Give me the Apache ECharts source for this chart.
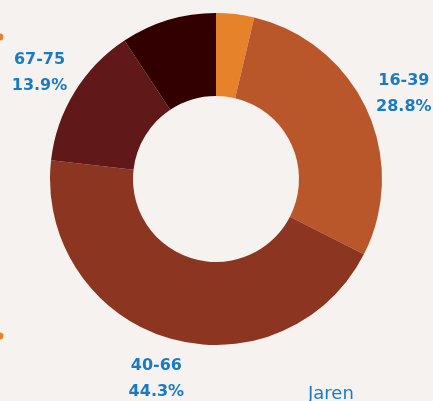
<!DOCTYPE html>
<html>
<head>
<meta charset="utf-8">
<script src="https://cdn.jsdelivr.net/npm/echarts@6/dist/echarts.min.js"></script>
<style>
  html, body { margin: 0; padding: 0; background: #f6f2ef; }
  #chart { width: 433px; height: 401px; }
</style>
</head>
<body>
<div id="chart"></div>
<script>
var categories = ["0-15", "16-39", "40-66", "67-75", "76+"];
var values = [3.7, 28.8, 44.3, 13.9, 9.3];
var colors = ["#e5822a", "#b9572a", "#8c3520", "#611818", "#330000"];

var chart = echarts.init(document.getElementById("chart"));

var pieData = categories.map(function (name, i) {
  return { name: name, value: values[i], itemStyle: { color: colors[i] } };
});
var labelData = categories.map(function (name, i) {
  return { name: name, value: values[i] };
});

var option = {
  backgroundColor: "#f6f2ef",
  animation: false,
  series: [
    {
      // de ring zelf
      type: "pie",
      center: [216, 179],
      radius: [83, 166],
      startAngle: 90,
      clockwise: true,
      silent: true,
      label: { show: false },
      labelLine: { show: false },
      data: pieData
    },
    {
      // onzichtbare ring om de labels op vaste afstand te zetten
      type: "pie",
      center: [216, 181],
      radius: [194, 214],
      startAngle: 90,
      clockwise: true,
      silent: true,
      itemStyle: { color: "rgba(0,0,0,0)" },
      label: {
        show: true,
        position: "inside",
        formatter: function (p) {
          return p.name + "\n" + p.value.toFixed(1) + "%";
        },
        color: "#1a7bc4",
        fontFamily: "DejaVu Sans",
        fontWeight: "bold",
        fontSize: 16,
        lineHeight: 26
      },
      labelLine: { show: false },
      data: labelData
    }
  ],
  graphic: [
    { type: "circle", shape: { cx: 0, cy: 37, r: 3.5 }, style: { fill: "#e5822a" } },
    { type: "circle", shape: { cx: 0, cy: 336, r: 3.5 }, style: { fill: "#e5822a" } },
    {
      type: "text",
      left: 308,
      top: 385,
      style: { text: "Jaren", fill: "#1a7bc4", font: "18px 'DejaVu Sans'" }
    }
  ]
};

chart.setOption(option);
</script>
</body>
</html>
